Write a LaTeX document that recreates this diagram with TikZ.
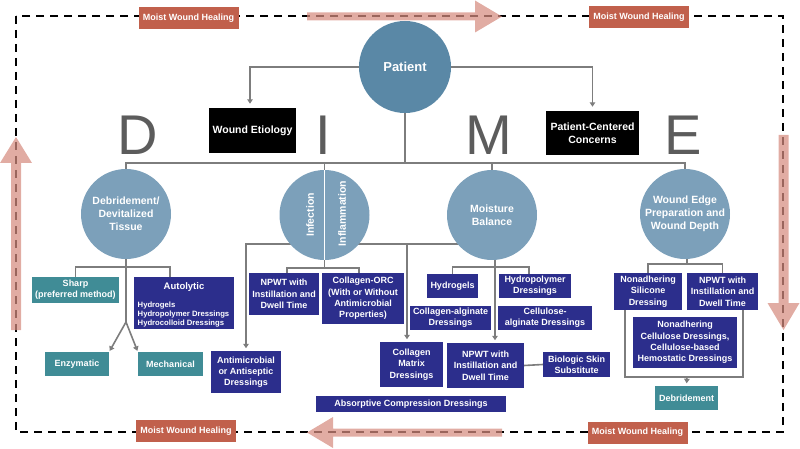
\documentclass[tikz,border=0pt]{standalone}
\usepackage{fontspec}
\setmainfont{Liberation Sans}
\usetikzlibrary{arrows.meta,calc}
\definecolor{navy}{RGB}{44,46,140}
\definecolor{tealc}{RGB}{64,140,150}
\definecolor{circblue}{RGB}{124,160,186}
\definecolor{patblue}{RGB}{90,136,166}
\definecolor{labred}{RGB}{193,96,76}
\definecolor{arrowpink}{RGB}{214,140,128}
\definecolor{linegray}{RGB}{125,125,125}
\definecolor{lettergray}{RGB}{92,92,92}
\pgfdeclarelayer{bg}
\pgfsetlayers{bg,main}
\tikzset{
  boxfont/.style={font=\bfseries\fontsize{9}{11.3}\selectfont},
  navybox/.style={rectangle, fill=navy, text=white, inner sep=0pt, align=center, boxfont},
  tealbox/.style={rectangle, fill=tealc, text=white, inner sep=0pt, align=center, boxfont},
  blackbox/.style={rectangle, fill=black, text=white, inner sep=0pt, align=center, font=\bfseries\fontsize{10.5}{13}\selectfont},
  mwh/.style={rectangle, fill=labred, text=white, inner sep=0pt, minimum width=100pt, minimum height=22pt, font=\bfseries\fontsize{9}{10}\selectfont},
  circ/.style={circle, fill=circblue, text=white, inner sep=0pt, minimum size=90pt, align=center, font=\bfseries\fontsize{10.5}{13}\selectfont},
  conn/.style={draw=linegray, line width=1.6pt},
  tip/.style={-{Triangle[width=5.5pt,length=4.5pt]}, shorten >=2.5pt},
  bigletter/.style={text=lettergray, inner sep=0pt, font=\fontsize{56}{56}\selectfont},
  border/.style={draw=black, line width=2.2pt, dash pattern=on 8pt off 6pt},
  bigarrow/.style={fill=arrowpink, fill opacity=0.72}
}
\begin{document}
\begin{tikzpicture}[x=1pt,y=-1pt]
\useasboundingbox (0,0) rectangle (800,449);

% ---------- top level ----------
\node[circ, fill=patblue, minimum size=92pt, font=\bfseries\fontsize{13}{15}\selectfont] (patient) at (405,67) {Patient};
\node[blackbox, minimum width=87pt, minimum height=45pt] (etio) at (252.5,130.5) {Wound Etiology};
\node[blackbox, minimum width=93pt, minimum height=44pt] (pcc) at (592.5,133) {Patient-Centered\\Concerns};

\node[bigletter] (lD) at (138,135) {D};
\node[bigletter] (lI) at (323,135) {I};
\node[bigletter] (lM) at (489,135) {M};
\node[bigletter] (lE) at (683,135) {E};

% ---------- circles ----------
\node[circ] (debc) at (126,214) {Debridement/\\Devitalized\\Tissue};
\node[circ] (infc) at (324.5,215) {};
\node[rotate=90, text=white, inner sep=0pt, font=\bfseries\fontsize{10.5}{13}\selectfont] (inftxt) at (310,215) {Infection};
\node[rotate=90, text=white, inner sep=0pt, font=\bfseries\fontsize{10.5}{13}\selectfont] (inflt) at (342,213.5) {Inflammation};
\node[circ] (moistc) at (492,215) {Moisture\\Balance};
\node[circ] (edgec) at (685,214) {Wound Edge\\Preparation and\\Wound Depth};
\draw[white, line width=1.3pt] (infc.north) -- (infc.south);

% ---------- D branch ----------
\node[tealbox, minimum width=87pt, minimum height=26pt] (sharp) at (75.5,290) {Sharp\\(preferred method)};
\node[navybox, minimum width=100pt, minimum height=52pt] (auto) at (184,303) {};
\node[text=white, inner sep=0pt, font=\bfseries\fontsize{9.5}{11}\selectfont] (autot) at (184,287.5) {Autolytic};
\node[text=white, inner sep=0pt, anchor=west, align=left, font=\bfseries\fontsize{7.7}{9.3}\selectfont] (autol) at (137.5,314.5) {Hydrogels\\Hydropolymer Dressings\\Hydrocolloid Dressings};
\node[tealbox, minimum width=64pt, minimum height=24pt] (enz) at (77,364) {Enzymatic};
\node[tealbox, minimum width=65pt, minimum height=24pt] (mech) at (170.5,364) {Mechanical};

% ---------- I branch ----------
\node[navybox, minimum width=70pt, minimum height=42pt] (npwta) at (284,294) {NPWT with\\Instillation and\\Dwell Time};
\node[navybox, minimum width=82pt, minimum height=51pt] (orc) at (363,298.5) {Collagen-ORC\\(With or Without\\Antimicrobial\\Properties)};
\node[navybox, minimum width=70pt, minimum height=42pt] (antimic) at (246,372) {Antimicrobial\\or Antiseptic\\Dressings};

% ---------- M branch ----------
\node[navybox, minimum width=51pt, minimum height=24pt] (hgel) at (452.5,286) {Hydrogels};
\node[navybox, minimum width=72pt, minimum height=24pt] (hpoly) at (535,286) {Hydropolymer\\Dressings};
\node[navybox, minimum width=81pt, minimum height=24pt] (calg) at (450.5,318) {Collagen-alginate\\Dressings};
\node[navybox, minimum width=94pt, minimum height=24pt] (celalg) at (545,318) {Cellulose-\\alginate Dressings};
\node[navybox, minimum width=63pt, minimum height=45pt] (cmatrix) at (411.5,364.5) {Collagen\\Matrix\\Dressings};
\node[navybox, minimum width=77pt, minimum height=45pt] (npwtb) at (485.5,365.5) {NPWT with\\Instillation and\\Dwell Time};
\node[navybox, minimum width=67pt, minimum height=25pt] (bio) at (576.5,364.5) {Biologic Skin\\Substitute};
\node[navybox, minimum width=190pt, minimum height=16pt] (absorb) at (411,404) {Absorptive Compression Dressings};

% ---------- E branch ----------
\node[navybox, minimum width=68pt, minimum height=37pt] (sil) at (648,291.5) {Nonadhering\\Silicone\\Dressing};
\node[navybox, minimum width=71pt, minimum height=37pt] (npwtc) at (722.5,291.5) {NPWT with\\Instillation and\\Dwell Time};
\node[navybox, minimum width=104pt, minimum height=51pt] (cell) at (685,342.5) {Nonadhering\\Cellulose Dressings,\\Cellulose-based\\Hemostatic Dressings};
\node[tealbox, minimum width=63pt, minimum height=24pt] (debbox) at (686.5,398) {Debridement};

% ---------- coordinates ----------
\coordinate (hbar) at (405,163);
\coordinate (dj) at (126,267);
\coordinate (dk) at (126,322);
\coordinate (ij) at (324.5,268);
\coordinate (cms) at (407,244);
\coordinate (mj) at (495,267);
\coordinate (ej) at (687,264);
\coordinate (eb) at (687,377);

% ---------- border + connectors ----------
\begin{pgfonlayer}{bg}
\draw[border] (16,16) rectangle (783,432);

\draw[conn, tip, shorten >=4pt] (patient.west) -| ([xshift=-2.5]etio.north);
\draw[conn, tip, shorten >=4pt] (patient.east) -| (pcc.north);
\draw[conn] (patient.south) -- (hbar);
\draw[conn] (debc.north) |- (hbar) -| (edgec.north);
\draw[conn] (infc.north) -- (infc.north |- hbar);
\draw[conn] (moistc.north) -- (moistc.north |- hbar);

% D
\draw[conn] (debc.south) -- (dk);
\draw[conn] (sharp.north) |- (dj) -| ([xshift=-14]auto.north);
\draw[conn, tip, shorten >=1pt] (dk) -- (enz.north east);
\draw[conn, tip, shorten >=1pt] (dk) -- (mech.north west);

% I
\draw[conn] (infc.south) -- (ij);
\draw[conn] ([xshift=3]npwta.north) |- (ij) -| ([xshift=-4]orc.north);
\draw[conn, tip] ($(moistc.center)+(0,29)$) -| (antimic.north);
\draw[conn, tip] (cms) -- (cms |- cmatrix.north);

% M
\draw[conn] (mj |- moistc.south) -- (mj);
\draw[conn] (hgel.north) |- (mj) -| ([xshift=-6]hpoly.north);
\draw[conn, tip] (mj) -- (mj |- npwtb.north);
\draw[conn] (npwtb.east) -- (bio.west);

% E
\draw[conn] (ej |- edgec.south) -- (ej);
\draw[conn] (sil.north) |- (ej) -| (npwtc.north);
\draw[conn] ([xshift=-23]sil.south) |- (eb) -| ([xshift=20.5]npwtc.south);
\draw[conn, tip] (eb) -- (debbox.north);
\end{pgfonlayer}

% ---------- big arrows ----------
\fill[bigarrow] (307,12.5) -- (475,12.5) -- (475,0.5) -- (502,16.5) -- (475,32.5) -- (475,20.5) -- (307,20.5) -- cycle;
\fill[bigarrow] (502,428.5) -- (333,428.5) -- (333,417) -- (307,432.5) -- (333,448) -- (333,436.5) -- (502,436.5) -- cycle;
\fill[bigarrow] (11,330) -- (11,163) -- (0,163) -- (16,137) -- (32,163) -- (21,163) -- (21,330) -- cycle;
\fill[bigarrow] (778.5,135) -- (778.5,303) -- (767.5,303) -- (783.5,330) -- (799.5,303) -- (788.5,303) -- (788.5,135) -- cycle;

% ---------- labels ----------
\node[mwh] (mwh1) at (188.5,18) {Moist Wound Healing};
\node[mwh] (mwh2) at (639,17) {Moist Wound Healing};
\node[mwh] (mwh3) at (186,431) {Moist Wound Healing};
\node[mwh] (mwh4) at (637.5,432.5) {Moist Wound Healing};
\end{tikzpicture}
\end{document}
